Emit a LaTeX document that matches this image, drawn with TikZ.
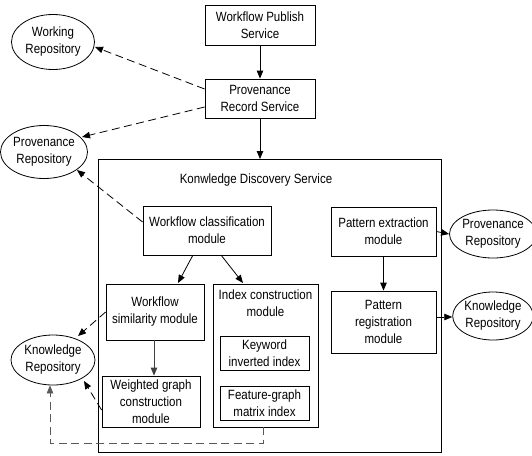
\documentclass[tikz,border=0pt]{standalone}
\usepackage{fontspec}
\setmainfont{Liberation Sans}[FakeStretch=0.86]
\usetikzlibrary{shapes.geometric,arrows.meta,calc}
\begin{document}
\begin{tikzpicture}[x=1pt,y=-1pt,
  every node/.style={font=\fontsize{13.4}{17}\selectfont, align=center, inner sep=0pt},
  box/.style={draw, line width=0.8pt},
  repo/.style={draw, ellipse, line width=0.8pt},
  link/.style={line width=0.8pt, -{Triangle[length=8pt,width=6.5pt]}},
  dlink/.style={link, dash pattern=on 8pt off 4.5pt},
  glink/.style={dlink, draw=black!65}]
\useasboundingbox (0,0) rectangle (532,455);

% services
\node[box, minimum width=110, minimum height=40] (pub) at (260,25) {Workflow Publish\\Service};
\node[box, minimum width=110, minimum height=39] (rec) at (260,98.5) {Provenance\\Record Service};

% knowledge discovery service frame
\draw[line width=0.8pt] (98,159) rectangle (441,452);
\coordinate (kdsTop) at (260,159);
\node (kds) at (256,180) {Konwledge Discovery Service};

% repositories on the left
\node[repo, minimum width=83, minimum height=55] (work) at (53,42) {Working\\Repository};
\node[repo, minimum width=84, minimum height=53] (prov) at (44,152) {Provenance\\Repository};
\node[repo, minimum width=84, minimum height=50] (know) at (53,360) {Knowledge\\Repository};

% repositories on the right
\node[repo, minimum width=78, minimum height=48] (prov2) at (493,234) {Provenance\\Repository};
\node[repo, minimum width=78, minimum height=48] (know2) at (493,316) {Knowledge\\Repository};

% modules
\node[box, minimum width=128, minimum height=49] (cls) at (207,230.5) {Workflow classification\\module};
\node[box, minimum width=98, minimum height=56] (sim) at (155,312) {Workflow\\similarity module};
\node[box, minimum width=98, minimum height=51] (wgc) at (151,401.5) {Weighted graph\\construction\\module};
\draw[line width=0.8pt] (213,284) rectangle (318,427);
\coordinate (idxBot) at (263,427);
\node (idx) at (265.5,303) {Index construction\\module};
\node[box, minimum width=89, minimum height=34] (kw) at (264.5,353) {Keyword\\inverted index};
\node[box, minimum width=89, minimum height=34] (fg) at (264.5,403) {Feature-graph\\matrix index};
\node[box, minimum width=105, minimum height=49] (pex) at (383.5,231.5) {Pattern extraction\\module};
\node[box, minimum width=105, minimum height=62] (preg) at (383.5,322) {Pattern\\registration\\module};

% solid flows
\draw[link] (pub) -- (rec);
\draw[link] (rec) -- (kdsTop);
\draw[link] (193,255) -- (178,283);
\draw[link] (221,255) -- (243,283);
\draw[link, draw=black!75] (sim.south -| 154,0) -- (wgc.north -| 154,0);
\draw[link] (pex) -- (preg);
\draw[link] (pex.east) -- (prov2.west);
\draw[link] (preg.east |- 0,317) -- (know2.west |- 0,317);

% dashed stores
\draw[dlink] (rec.west |- 0,89) -- (95,47);
\draw[dlink] (rec.west |- 0,107) -- (82,137);
\draw[dlink] (cls.west |- 0,222) -- (77,170);
\draw[dlink] (sim.west |- 0,312) -- (78,336);
\draw[dlink] (wgc.west |- 0,410) -- (84,381);
\draw[glink] (idxBot) -- (263,443) -- (50,443) -- (know.south -| 50,0);
\end{tikzpicture}
\end{document}
